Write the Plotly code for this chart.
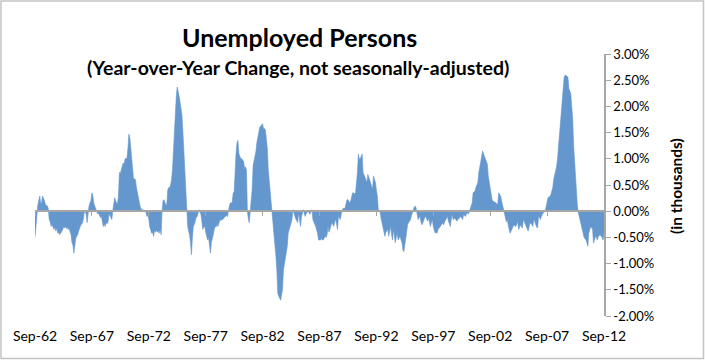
import pandas as pd
import plotly.graph_objects as go

# Monthly year-over-year change (%) of unemployed persons, Sep-1962 .. Sep-2012
# (one row = Sep..Aug)
yoy_change = [
    -0.50, -0.22, -0.08, 0.12, 0.22, 0.29, 0.15, 0.16, 0.29, 0.25, 0.20, 0.13,
    0.12, 0.10, 0.05, -0.16, -0.20, -0.29, -0.25, -0.30, -0.35, -0.30, -0.38, -0.32,
    -0.42, -0.40, -0.45, -0.42, -0.40, -0.36, -0.30, -0.32, -0.29, -0.33, -0.30, -0.35,
    -0.33, -0.38, -0.45, -0.60, -0.65, -0.80, -0.60, -0.52, -0.48, -0.45, -0.38, -0.30,
    -0.28, -0.25, -0.22, -0.15, 0.00, -0.03, -0.05, -0.22, 0.02, 0.10, 0.16, 0.20,
    0.35, 0.30, 0.15, 0.10, 0.05, 0.00, -0.05, -0.04, -0.10, -0.12, -0.10, -0.18,
    -0.29, -0.25, -0.29, -0.22, -0.24, -0.20, -0.06, -0.08, -0.12, -0.16, 0.00, 0.10,
    0.26, 0.20, 0.16, 0.13, 0.30, 0.74, 0.72, 0.80, 0.90, 0.92, 0.90, 1.00,
    1.00, 1.02, 1.20, 1.47, 1.40, 1.19, 1.10, 0.80, 0.61, 0.62, 0.60, 0.45,
    0.35, 0.20, 0.10, 0.08, 0.04, 0.02, 0.02, 0.01, 0.02, -0.02, -0.10, -0.08,
    -0.15, -0.30, -0.35, -0.42, -0.40, -0.48, -0.38, -0.40, -0.36, -0.40, -0.38, -0.42,
    -0.35, -0.45, 0.00, 0.20, 0.22, 0.15, 0.12, 0.13, 0.40, 0.45, 0.45, 0.50,
    0.60, 0.80, 1.19, 1.60, 2.10, 2.20, 2.37, 2.30, 2.20, 2.08, 1.95, 1.83,
    1.50, 1.10, 0.67, 0.30, 0.00, -0.29, -0.38, -0.45, -0.60, -0.83, -0.50, -0.29,
    -0.25, -0.16, -0.12, -0.10, 0.00, 0.03, -0.02, -0.06, -0.20, -0.35, -0.30, -0.29,
    -0.40, -0.48, -0.55, -0.50, -0.65, -0.80, -0.60, -0.48, -0.45, -0.35, -0.29, -0.30,
    -0.25, -0.29, -0.20, -0.16, -0.18, -0.15, -0.16, -0.12, -0.11, -0.10, -0.08, -0.10,
    0.06, 0.10, 0.16, 0.15, 0.18, 0.35, 0.36, 0.87, 1.10, 1.30, 1.35, 1.10,
    1.03, 1.00, 1.00, 0.98, 0.95, 0.80, 0.85, 0.78, 0.00, -0.15, -0.22, 0.00,
    0.20, 0.42, 0.87, 0.95, 1.03, 1.15, 1.31, 1.41, 1.50, 1.60, 1.62, 1.65,
    1.67, 1.57, 1.58, 1.55, 1.35, 1.19, 0.80, 0.60, 0.42, 0.20, 0.00, -0.22,
    -0.40, -0.60, -0.85, -1.12, -1.57, -1.62, -1.65, -1.70, -1.60, -1.50, -1.12, -1.00,
    -0.87, -0.75, -0.67, -0.42, -0.35, -0.29, -0.20, -0.16, 0.03, -0.05, -0.10, -0.15,
    -0.18, -0.22, -0.03, -0.15, -0.29, -0.10, -0.03, 0.03, -0.05, -0.10, -0.05, -0.03,
    0.00, -0.03, -0.06, 0.01, 0.03, -0.16, -0.22, -0.25, -0.29, -0.35, -0.42, -0.55,
    -0.55, -0.55, -0.52, -0.55, -0.55, -0.50, -0.48, -0.50, -0.45, -0.29, -0.40, -0.35,
    -0.30, -0.22, -0.25, -0.29, -0.20, -0.16, -0.25, -0.35, -0.10, -0.12, -0.16, -0.05,
    0.00, 0.06, 0.05, 0.06, 0.15, 0.22, 0.22, 0.18, 0.16, 0.20, 0.30, 0.35,
    0.35, 0.33, 0.35, 0.50, 0.74, 1.09, 1.00, 1.00, 1.05, 1.09, 0.74, 0.70,
    0.67, 0.60, 0.55, 0.70, 0.65, 0.60, 0.55, 0.50, 0.42, 0.67, 0.60, 0.55,
    0.40, 0.29, 0.03, 0.00, -0.03, -0.15, -0.22, -0.35, -0.40, -0.48, -0.40, -0.38,
    -0.35, -0.48, -0.40, -0.29, -0.45, -0.55, -0.35, -0.50, -0.60, -0.50, -0.42, -0.55,
    -0.50, -0.48, -0.55, -0.60, -0.74, -0.77, -0.65, -0.50, -0.29, -0.25, -0.22, -0.20,
    -0.16, -0.08, -0.03, 0.06, 0.08, 0.10, 0.05, -0.06, -0.16, -0.12, -0.10, -0.20,
    -0.26, -0.22, -0.16, -0.12, -0.10, -0.15, -0.19, -0.13, -0.20, -0.29, -0.22, -0.16,
    -0.29, -0.35, -0.42, -0.40, -0.42, -0.35, -0.32, -0.29, -0.27, -0.25, -0.22, -0.26,
    -0.20, -0.16, -0.12, -0.10, -0.19, -0.25, -0.29, -0.15, -0.06, -0.16, -0.14, -0.13,
    -0.17, -0.19, -0.16, -0.14, -0.12, -0.10, -0.13, -0.16, -0.06, -0.08, -0.10, -0.05,
    -0.03, -0.06, 0.00, 0.06, 0.10, 0.16, 0.35, 0.36, 0.38, 0.45, 0.50, 0.55,
    0.74, 0.85, 1.00, 1.10, 1.15, 1.09, 1.05, 1.00, 0.95, 0.90, 0.67, 0.55,
    0.42, 0.30, 0.22, 0.19, 0.17, 0.17, 0.16, 0.15, 0.13, 0.35, 0.32, 0.29,
    0.20, 0.13, 0.00, -0.05, -0.10, -0.20, -0.16, -0.29, -0.35, -0.42, -0.38, -0.32,
    -0.30, -0.26, -0.28, -0.29, -0.25, -0.19, -0.35, -0.30, -0.26, -0.30, -0.32, -0.16,
    -0.20, -0.26, -0.30, -0.32, -0.38, -0.30, -0.22, -0.24, -0.25, -0.29, -0.16, -0.20,
    -0.26, -0.30, -0.32, -0.10, -0.12, -0.16, -0.10, -0.06, -0.03, -0.02, 0.00, 0.08,
    0.16, 0.26, 0.27, 0.28, 0.32, 0.40, 0.45, 0.61, 0.68, 0.74, 0.85, 1.00,
    1.25, 1.45, 1.63, 1.90, 2.15, 2.50, 2.55, 2.60, 2.58, 2.57, 2.56, 2.34,
    2.30, 2.24, 2.00, 1.76, 1.25, 0.90, 0.61, 0.35, 0.10, -0.03, -0.10, -0.16,
    -0.22, -0.29, -0.42, -0.50, -0.52, -0.55, -0.60, -0.67, -0.42, -0.35, -0.29, -0.32,
    -0.35, -0.61, -0.55, -0.48, -0.50, -0.55, -0.48, -0.46, -0.45, -0.48, -0.50, -0.55,
    -0.42,
]
months = pd.date_range("1962-09-01", periods=len(yoy_change), freq="MS")

tick_dates = ["1962-09-01", "1967-09-01", "1972-09-01", "1977-09-01", "1982-09-01",
              "1987-09-01", "1992-09-01", "1997-09-01", "2002-09-01", "2007-09-01",
              "2012-09-01"]
tick_labels = ["Sep-62", "Sep-67", "Sep-72", "Sep-77", "Sep-82", "Sep-87",
               "Sep-92", "Sep-97", "Sep-02", "Sep-07", "Sep-12"]
y_ticks = [-2.0, -1.5, -1.0, -0.5, 0.0, 0.5, 1.0, 1.5, 2.0, 2.5, 3.0]
y_tick_labels = ["-2.00%", "-1.50%", "-1.00%", "-0.50%", "0.00%", "0.50%",
                 "1.00%", "1.50%", "2.00%", "2.50%", "3.00%"]

FILL = "#6497CD"
GREY = "#A6A6A6"
FONT = "Lato"

fig = go.Figure()
fig.add_trace(go.Scatter(
    x=months, y=yoy_change, mode="lines", fill="tozeroy",
    fillcolor=FILL, line=dict(color=FILL, width=0.6), hoverinfo="x+y",
    showlegend=False,
))

W, H = 705, 360
ml, mr, mt, mb = 35, 101, 54, 44
pw, ph = W - ml - mr, H - mt - mb

def px_x(px):
    return (px - ml) / pw

def px_y(py):
    return 1 - (py - mt) / ph

fig.update_layout(
    width=W, height=H,
    margin=dict(l=ml, r=mr, t=mt, b=mb),
    paper_bgcolor="white", plot_bgcolor="white",
    font=dict(family=FONT, color="#000000", size=13),
    xaxis=dict(
        range=[months[0], months[-1]],
        tickvals=tick_dates, ticktext=tick_labels,
        anchor="free", position=0.4,
        showline=True, linecolor=GREY, linewidth=2,
        ticks="outside", ticklen=4, tickcolor=GREY, tickwidth=1,
        ticklabelstandoff=108,
        showgrid=False, zeroline=False,
        tickfont=dict(size=14, family=FONT),
    ),
    yaxis=dict(
        range=[-2.0, 3.0], side="right",
        tickvals=y_ticks, ticktext=y_tick_labels,
        showline=True, linecolor=GREY, linewidth=1.5,
        ticks="outside", ticklen=5, tickcolor=GREY,
        showgrid=False, zeroline=False,
        tickfont=dict(size=13, family=FONT),
    ),
    annotations=[
        dict(text="<b>Unemployed Persons</b>", xref="paper", yref="paper",
             x=px_x(299), y=px_y(37), xanchor="center", yanchor="middle",
             showarrow=False, font=dict(size=25, family=FONT, color="#000")),
        dict(text="<b>(Year-over-Year Change, not seasonally-adjusted)</b>",
             xref="paper", yref="paper",
             x=px_x(298), y=px_y(67), xanchor="center", yanchor="middle",
             showarrow=False, font=dict(size=19.5, family=FONT, color="#000")),
        dict(text="<b>(in thousands)</b>", xref="paper", yref="paper",
             x=px_x(676), y=px_y(186), xanchor="center", yanchor="middle",
             textangle=-90, showarrow=False,
             font=dict(size=15.5, family=FONT, color="#000")),
    ],
    shapes=[
        dict(type="rect", xref="paper", yref="paper",
             x0=px_x(1), x1=px_x(703.5), y0=px_y(358.5), y1=px_y(1),
             line=dict(color="#C4C4C4", width=1.5), layer="below"),
    ],
)

fig.write_html("out.html", config={"displayModeBar": False},
               post_script="document.body.style.margin='0px';")
